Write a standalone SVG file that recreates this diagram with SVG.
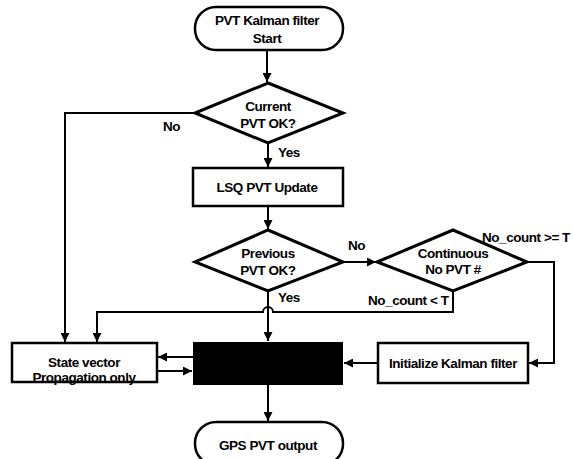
<svg xmlns="http://www.w3.org/2000/svg" width="573" height="459" viewBox="0 0 573 459">
<defs>
<marker id="ah" viewBox="0 0 10 10" refX="10" refY="5" markerWidth="9" markerHeight="9" markerUnits="userSpaceOnUse" orient="auto">
<path d="M0,0 L10,5 L0,10 Z" fill="#000"/>
</marker>
<style>
.n{fill:#fff;stroke:#000;stroke-width:2.5}
.d{fill:#fff;stroke:#000;stroke-width:3}
.c{fill:none;stroke:#000;stroke-width:2}
.a{marker-end:url(#ah)}
text{font-family:"Liberation Sans",Arial,sans-serif;font-weight:bold;font-size:13.5px;letter-spacing:-0.45px;fill:#000}
.m{text-anchor:middle}
</style>
</defs>
<rect width="573" height="459" fill="#fff"/>
<g id="connectors">
<path class="c a" d="M267,50 L267,82"/>
<path class="c a" d="M268,143 L268,167"/>
<path class="c a" d="M195,113 L65,113 L65,342"/>
<path class="c a" d="M268,207 L268,229"/>
<path class="c a" d="M343,262 L376,262"/>
<path class="c a" d="M268,291 L268,341"/>
<path class="c a" d="M453,291 L453,312 L273,312 A5,5 0 0 0 263,312 L97,312 L97,342"/>
<path class="c a" d="M527,262 L554,262 L554,363 L529,363"/>
<path class="c a" d="M378,363 L344,363"/>
<path class="c a" d="M193,357 L158,357"/>
<path class="c a" d="M157,371 L192,371"/>
<path class="c a" d="M268,385 L268,421"/>
</g>
<g id="start">
<rect class="n" x="195" y="7" width="148" height="43" rx="21"/>
<text class="m" x="267" y="25">PVT Kalman filter</text>
<text class="m" x="267" y="43">Start</text>
</g>
<g id="current">
<polygon class="d" points="268,83 343,113 268,143 195,113"/>
<text class="m" x="268" y="111">Current</text>
<text class="m" x="268" y="128">PVT OK?</text>
</g>
<g id="lsq">
<rect class="n" x="193" y="168" width="150" height="38"/>
<text class="m" x="267" y="192">LSQ PVT Update</text>
</g>
<g id="previous">
<polygon class="d" points="268,230 343,262 268,291 195,262"/>
<text class="m" x="268" y="258">Previous</text>
<text class="m" x="268" y="275">PVT OK?</text>
</g>
<g id="continuous">
<polygon class="d" points="453,230 527,262 453,291 377,262"/>
<text class="m" x="453" y="258">Continuous</text>
<text class="m" x="453" y="274">No PVT #</text>
</g>
<g id="state">
<rect class="n" x="12" y="343" width="145" height="39"/>
<text class="m" x="84" y="367">State vector</text>
<text class="m" x="84" y="382">Propagation only</text>
</g>
<g id="kalman">
<rect x="193" y="342" width="150" height="43" fill="#000"/>
</g>
<g id="init">
<rect class="n" x="378" y="343" width="150" height="40"/>
<text class="m" x="453" y="368">Initialize Kalman filter</text>
</g>
<g id="output">
<rect class="n" x="195" y="422" width="148" height="43" rx="21"/>
<text class="m" x="268" y="450">GPS PVT output</text>
</g>
<g id="labels">
<text x="163" y="131">No</text>
<text x="278" y="157">Yes</text>
<text x="348" y="250">No</text>
<text x="278" y="302">Yes</text>
<text x="482" y="242">No_count &gt;= T</text>
<text x="368" y="305">No_count &lt; T</text>
</g>
</svg>
